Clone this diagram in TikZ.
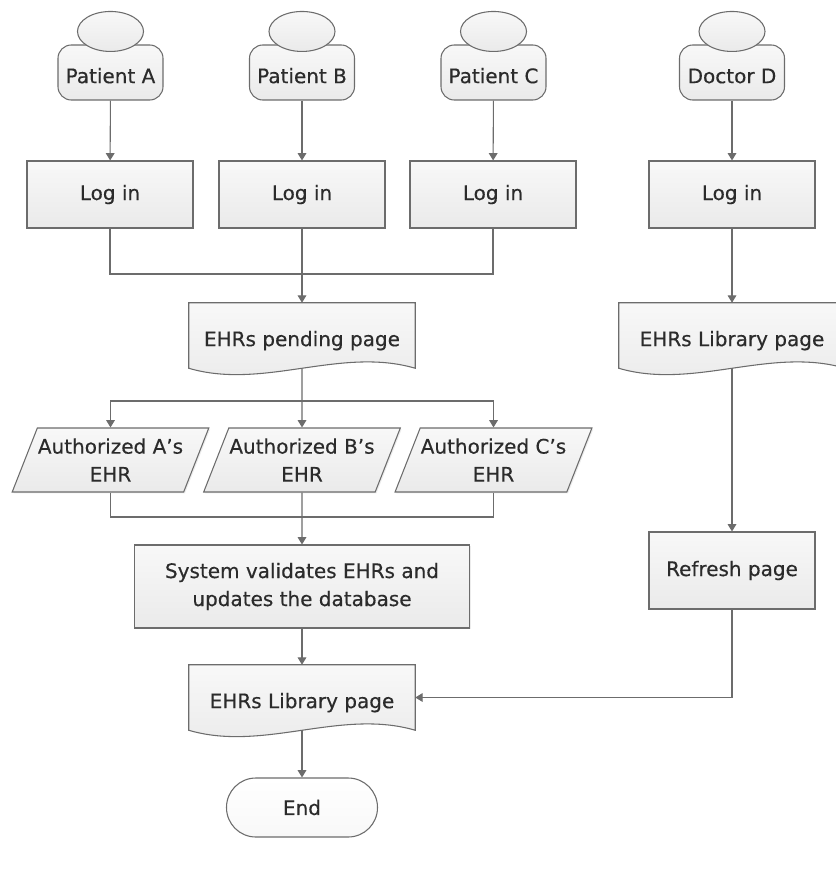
\documentclass[tikz,border=0pt]{standalone}
\usepackage{fontspec}
\setmainfont{DejaVu Sans}[FakeBold=0.4]
\usepackage{xcolor}
\usetikzlibrary{arrows.meta,positioning,shapes.geometric,calc,backgrounds,shadows}
\definecolor{edge}{HTML}{6C6C6C}
\definecolor{ink}{HTML}{2B2B2B}
\definecolor{filltop}{HTML}{F8F8F8}
\definecolor{fillbot}{HTML}{EAEAEA}

\begin{document}
\begin{tikzpicture}[
        x=0.75pt, y=-0.75pt,
        every node/.style={font=\fontsize{15}{21}\selectfont, text=ink, align=center, inner sep=0pt},
        base/.style={draw=edge, line width=0.8pt, top color=filltop, bottom color=fillbot},
        box/.style={base, rectangle, minimum width=124.5pt, minimum height=50.25pt,
            drop shadow={opacity=0.15, shadow xshift=1pt, shadow yshift=-1pt}},
        actor/.style={base, rectangle, rounded corners=10pt, minimum width=78.75pt, minimum height=41.25pt,
            text height=16pt, text depth=0pt},
        page/.style={rectangle, minimum width=169.5pt, minimum height=48.75pt, text height=20pt, text depth=4pt},
        auth/.style={base, trapezium, trapezium left angle=60, trapezium right angle=120,
            minimum width=147.75pt, minimum height=48pt, trapezium stretches=true,
            drop shadow={opacity=0.15, shadow xshift=1pt, shadow yshift=-1pt}},
        term/.style={base, rectangle, rounded corners=22pt, minimum width=113.25pt, minimum height=44.25pt,
            top color=white, bottom color=filltop},
        link/.style={draw=edge, line width=0.8pt},
        flow/.style={link, -{Triangle[length=5.5pt, width=6.5pt]}}
    ]
    \useasboundingbox (0,0) rectangle (835,888);

    % users
    \node[actor] (pa) at (110.5,72.5) {Patient A};
    \node[actor] (pb) at (302,72.5) {Patient B};
    \node[actor] (pc) at (493.5,72.5) {Patient C};
    \node[actor] (dd) at (732,72.5) {Doctor D};
    \foreach \n in {pa,pb,pc,dd}
        \draw[base] ($(\n.north)+(0,-13)$) ellipse [x radius=24.75pt, y radius=15pt];

    % log in
    \node[box] (la) at (110,194.5) {Log in};
    \node[box] (lb) at (302,194.5) {Log in};
    \node[box] (lc) at (493,194.5) {Log in};
    \node[box] (ld) at (732,194.5) {Log in};

    \node[page] (pend) at (302,335.5) {EHRs pending page};
    \node[page] (libd) at (732,335.5) {EHRs Library page};

    \node[auth] (aa) at (110.5,460) {Authorized A's\\EHR};
    \node[auth] (ab) at (302,460) {Authorized B's\\EHR};
    \node[auth] (ac) at (493.5,460) {Authorized C's\\EHR};

    \node[box, minimum width=251.25pt, minimum height=62.25pt] (sys) at (302,586.5)
        {System validates EHRs and\\updates the database};
    \node[box, minimum height=57.75pt] (ref) at (732,570.5) {Refresh page};
    \node[page] (libs) at (302,697.5) {EHRs Library page};
    \node[term] (stop) at (302,807.5) {End};

    % page outlines with the wavy bottom
    \begin{scope}[on background layer]
        \foreach \n in {pend,libd,libs}
            \draw[base] (\n.north west) -- (\n.north east) -- (\n.south east)
                .. controls ($(\n.south east)+(-75,-22)$) and ($(\n.south west)+(75,22)$) .. (\n.south west) -- cycle;
    \end{scope}

    \coordinate (j1) at (302,274);
    \coordinate (split) at (302,401);
    \coordinate (j2) at (302,517);

    \foreach \p/\l in {pa/la,pb/lb,pc/lc,dd/ld}
        \draw[flow] (\p) -- (\l);
    \draw[link] (la) |- (j1) -| (lc);
    \draw[flow] (lb) -- (pend);
    \draw[flow] (ld) -- (libd);
    \draw[flow] (pend) -- (ab);
    \draw[flow] (split) -| (aa);
    \draw[flow] (split) -| (ac);
    \draw[link] (aa) |- (j2) -| (ac);
    \draw[flow] (ab) -- (sys);
    \draw[flow] (sys) -- (libs);
    \draw[flow] (libs) -- (stop);
    \draw[flow] (libd) -- (ref);
    \draw[flow] (ref) |- (libs);
\end{tikzpicture}
\end{document}
